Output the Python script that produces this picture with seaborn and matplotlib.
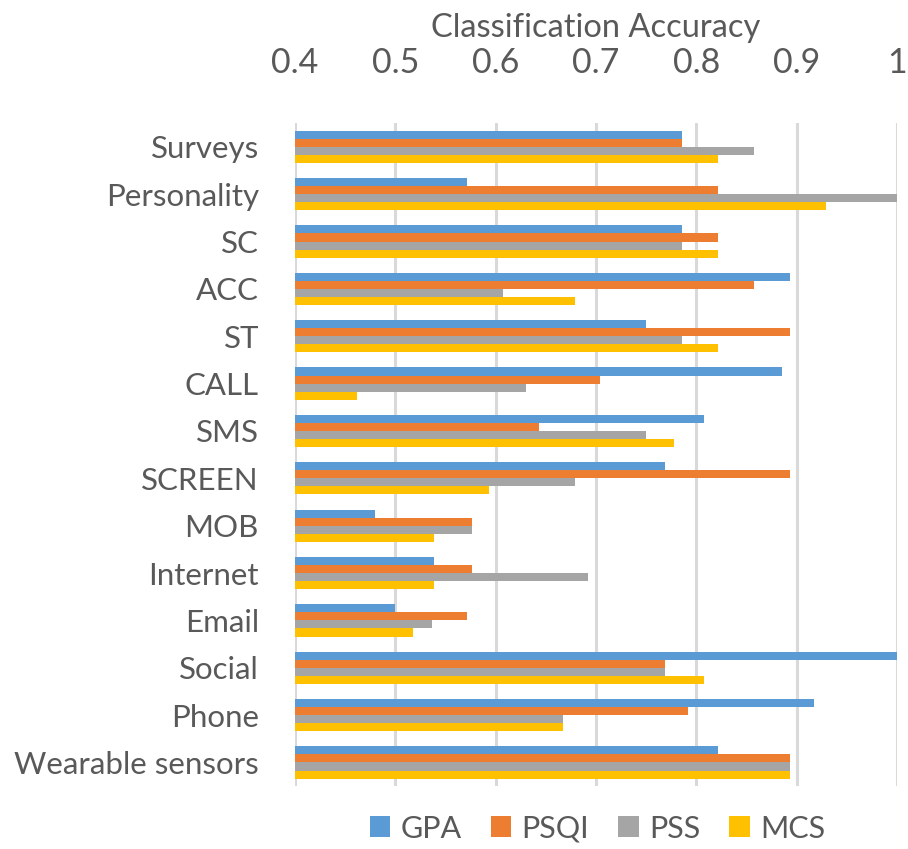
import matplotlib
matplotlib.use("Agg")
import matplotlib.pyplot as plt
import seaborn as sns
import pandas as pd
from matplotlib.patches import Patch

categories = ["Surveys", "Personality", "SC", "ACC", "ST", "CALL", "SMS", "SCREEN",
              "MOB", "Internet", "Email", "Social", "Phone", "Wearable sensors"]
series = ["GPA", "PSQI", "PSS", "MCS"]
gpa  = [0.786, 0.571, 0.786, 0.893, 0.750, 0.885, 0.808, 0.769, 0.480, 0.538, 0.500, 1.000, 0.917, 0.821]
psqi = [0.786, 0.821, 0.821, 0.857, 0.893, 0.704, 0.643, 0.893, 0.576, 0.576, 0.571, 0.769, 0.792, 0.893]
pss  = [0.857, 1.000, 0.786, 0.607, 0.786, 0.630, 0.750, 0.679, 0.576, 0.692, 0.536, 0.769, 0.667, 0.893]
mcs  = [0.821, 0.929, 0.821, 0.679, 0.821, 0.462, 0.778, 0.593, 0.538, 0.538, 0.518, 0.808, 0.667, 0.893]
xticks = [0.4, 0.5, 0.6, 0.7, 0.8, 0.9, 1.0]
xticklabels = ["0.4", "0.5", "0.6", "0.7", "0.8", "0.9", "1"]

colors = ["#5B9BD5", "#ED7D31", "#A5A5A5", "#FFC000"]
txt = "#595959"

rows = []
for s, vals in zip(series, [gpa, psqi, pss, mcs]):
    for c, v in zip(categories, vals):
        rows.append({"Category": c, "Series": s, "Accuracy": v})
df = pd.DataFrame(rows)

sns.set_theme(style="white")
plt.rcParams["font.family"] = ["Lato", "DejaVu Sans"]

fig = plt.figure(figsize=(9.08, 8.49), dpi=100)
ax = fig.add_axes([0.325, 0.074, 0.663, 0.781])

sns.barplot(data=df, y="Category", x="Accuracy", hue="Series", order=categories,
            hue_order=series, palette=colors, orient="h", width=0.68,
            saturation=1, linewidth=0, ax=ax, legend=False)

ax.set_xlim(0.4, 1.0)
ax.set_ylim(len(categories) - 0.5, -0.5)
ax.xaxis.tick_top()
ax.xaxis.set_label_position("top")
ax.set_xticks(xticks)
ax.set_xticklabels(xticklabels, fontsize=24.5, color=txt)
ax.tick_params(axis="x", length=0, pad=32)
ax.tick_params(axis="y", length=0, labelsize=22.5, labelcolor=txt, pad=26)
ax.set_ylabel("")
ax.set_xlabel("Classification Accuracy", fontsize=23.5, color=txt, labelpad=7)
for sp in ax.spines.values():
    sp.set_visible(False)
ax.grid(axis="x", color="#D9D9D9", linewidth=2.2)
ax.set_axisbelow(True)

handles = [Patch(facecolor=c, edgecolor="none", label=s) for s, c in zip(series, colors)]
leg = fig.legend(handles=handles, loc="center", bbox_to_anchor=(0.658, 0.024), ncol=4,
                 frameon=False, fontsize=22, handlelength=0.68, handleheight=0.68,
                 handletextpad=0.33, columnspacing=0.95)
for t in leg.get_texts():
    t.set_color(txt)

fig.savefig("out.png", dpi=100)
